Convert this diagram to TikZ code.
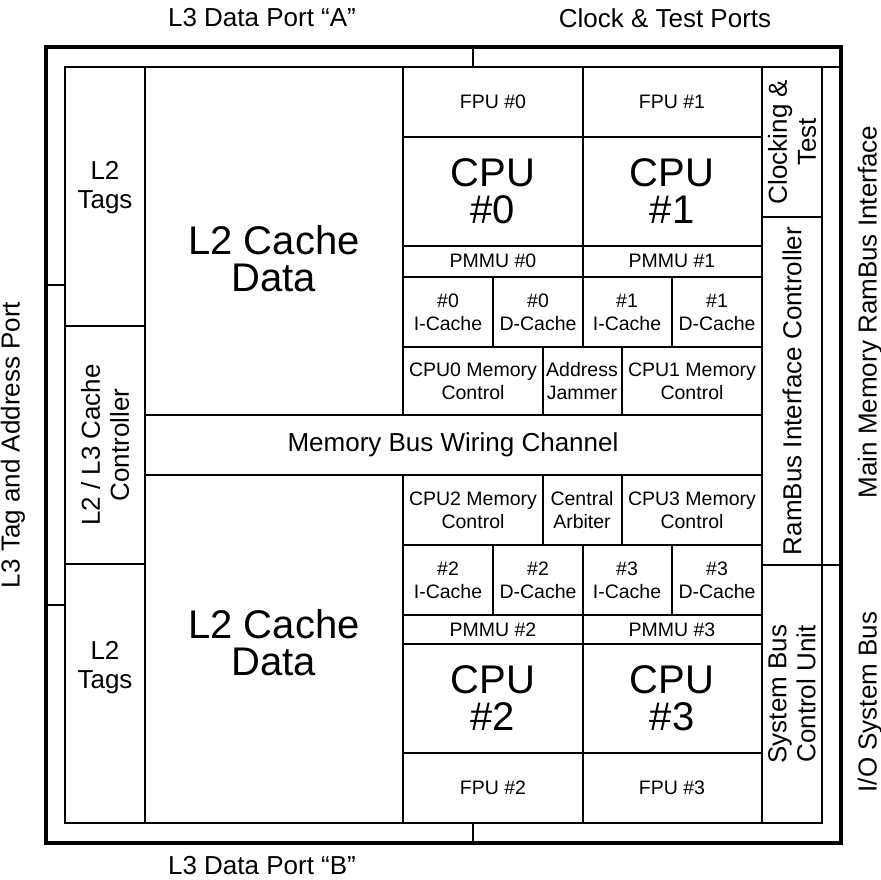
\documentclass[tikz,border=0pt]{standalone}
\usepackage{fontspec}
\setmainfont{Liberation Sans}
\begin{document}
\begin{tikzpicture}[x=1pt, y=-1pt, line width=1.8pt,
   small/.style={font=\fontsize{19.5}{23}\selectfont, align=center, inner sep=0pt},
   mid/.style={font=\fontsize{26}{29}\selectfont, align=center, inner sep=0pt},
   big/.style={font=\fontsize{40}{37}\selectfont, align=center, inner sep=0pt}]
   \useasboundingbox (0,0) rectangle (881,880);
   % chip frame and port marks
   \draw [line width=4pt] (46,47) rectangle (841,843);
   \draw (473,47) -- (473,67);
   \draw (473,823) -- (473,843);
   \draw (46,285) -- (65,285);
   \draw (46,605) -- (65,605);
   % die outline
   \draw (65,67) rectangle (822,823);
   \draw (822,67) -- (841,67);
   \draw (762,565) -- (841,565);
   % columns
   \draw (145,67) -- (145,823);
   \draw (762,67) -- (762,823);
   \draw (403,67) -- (403,415);
   \draw (403,475) -- (403,823);
   \draw (583,67) -- (583,347);
   \draw (583,545) -- (583,823);
   \draw (65,326) -- (145,326);
   \draw (65,564) -- (145,564);
   \draw (762,217) -- (822,217);
   % wiring channel
   \draw (145,415) -- (762,415);
   \draw (145,475) -- (762,475);
   % cpu 0 and 1
   \draw (403,137) -- (762,137);
   \draw (403,246) -- (762,246);
   \draw (403,277) -- (762,277);
   \draw (403,347) -- (762,347);
   \draw (493,277) -- (493,347);
   \draw (672,277) -- (672,347);
   \draw (543,347) -- (543,415);
   \draw (622,347) -- (622,415);
   % cpu 2 and 3
   \draw (403,545) -- (762,545);
   \draw (403,615) -- (762,615);
   \draw (403,644) -- (762,644);
   \draw (403,753) -- (762,753);
   \draw (493,545) -- (493,615);
   \draw (672,545) -- (672,615);
   \draw (543,475) -- (543,545);
   \draw (622,475) -- (622,545);
   % port labels
   \node (portA) [mid] at (262,18) {L3 Data Port “A”};
   \node (clkport) [mid] at (665,18) {Clock \& Test Ports};
   \node (portB) [mid] at (262,866) {L3 Data Port “B”};
   \node (tagport) [mid, rotate=90] at (13,445) {L3 Tag and Address Port};
   \node (rambus) [mid, rotate=90] at (870,312) {Main Memory RamBus Interface};
   \node (iobus) [mid, rotate=90] at (870,702) {I/O System Bus};
   % left side
   \node (tags0) [mid] at (105,188) {L2\\Tags};
   \node (tags1) [mid] at (105,668) {L2\\Tags};
   \node (l2ctl) [mid, rotate=90] at (105,445) {L2 / L3 Cache\\Controller};
   \node (data0) [big] at (274,259) {L2 Cache\\Data};
   \node (data1) [big] at (274,643) {L2 Cache\\Data};
   \node (wiring) [mid] at (453,445) {Memory Bus Wiring Channel};
   % right side
   \node (clktest) [mid, rotate=90] at (792,142) {Clocking \&\\Test};
   \node (rbctl) [mid, rotate=90] at (792,391) {RamBus Interface Controller};
   \node (sbctl) [mid, rotate=90] at (792,694) {System Bus\\Control Unit};
   % upper processors
   \node (fpu0) [small] at (493,102) {FPU \#0};
   \node (fpu1) [small] at (672,102) {FPU \#1};
   \node (cpu0) [big] at (493,191) {CPU\\\#0};
   \node (cpu1) [big] at (672,191) {CPU\\\#1};
   \node (pmmu0) [small] at (493,261) {PMMU \#0};
   \node (pmmu1) [small] at (672,261) {PMMU \#1};
   \node (ic0) [small] at (448,312) {\#0\\I-Cache};
   \node (dc0) [small] at (538,312) {\#0\\D-Cache};
   \node (ic1) [small] at (627,312) {\#1\\I-Cache};
   \node (dc1) [small] at (717,312) {\#1\\D-Cache};
   \node (mc0) [small] at (473,381) {CPU0 Memory\\Control};
   \node (jam) [small] at (582,381) {Address\\Jammer};
   \node (mc1) [small] at (692,381) {CPU1 Memory\\Control};
   % lower processors
   \node (mc2) [small] at (473,510) {CPU2 Memory\\Control};
   \node (arb) [small] at (582,510) {Central\\Arbiter};
   \node (mc3) [small] at (692,510) {CPU3 Memory\\Control};
   \node (ic2) [small] at (448,580) {\#2\\I-Cache};
   \node (dc2) [small] at (538,580) {\#2\\D-Cache};
   \node (ic3) [small] at (627,580) {\#3\\I-Cache};
   \node (dc3) [small] at (717,580) {\#3\\D-Cache};
   \node (pmmu2) [small] at (493,630) {PMMU \#2};
   \node (pmmu3) [small] at (672,630) {PMMU \#3};
   \node (cpu2) [big] at (493,698) {CPU\\\#2};
   \node (cpu3) [big] at (672,698) {CPU\\\#3};
   \node (fpu2) [small] at (493,788) {FPU \#2};
   \node (fpu3) [small] at (672,788) {FPU \#3};
\end{tikzpicture}
\end{document}
